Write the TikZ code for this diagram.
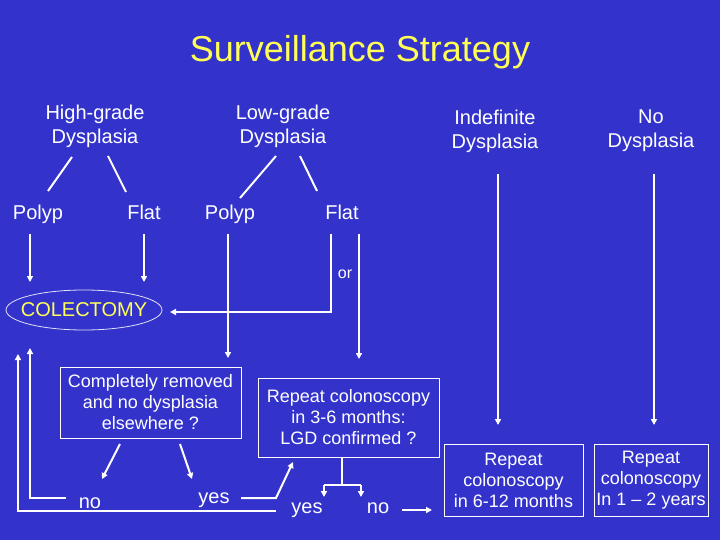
\documentclass[tikz,border=0pt]{standalone}
\usepackage{fontspec}
\setmainfont{Liberation Sans}
\usetikzlibrary{shapes.geometric,arrows.meta}
\definecolor{bg}{HTML}{3333CC}
\definecolor{ttl}{HTML}{FFFF55}
\begin{document}
\begin{tikzpicture}[x=1pt,y=-1pt,
  lbl/.style={text=white,font=\fontsize{20}{24}\selectfont,align=center,inner sep=0pt},
  sml/.style={text=white,font=\fontsize{16}{21}\selectfont,align=center,inner sep=0pt},
  boxn/.style={draw=white,line width=0.9pt,text=white,font=\fontsize{18}{21}\selectfont,align=center,inner sep=0pt},
  ln/.style={draw=white,line width=2pt},
  arr/.style={draw=white,line width=2pt,-{Triangle[length=6pt,width=6pt]}}]
\fill[bg] (0,0) rectangle (720,540);
\useasboundingbox (0,0) rectangle (720,540);
% title
\node[text=ttl,font=\fontsize{36}{42}\selectfont,inner sep=0pt] (title) at (360,52) {Surveillance Strategy};
% categories
\node[lbl] (hgd) at (95,126) {High-grade\\Dysplasia};
\node[lbl] (lgd) at (283,126) {Low-grade\\Dysplasia};
\node[lbl] (ind) at (495,131) {Indefinite\\Dysplasia};
\node[lbl] (nod) at (651,131) {No\\Dysplasia};
\node[lbl,anchor=base] (p1) at (38,219) {Polyp};
\node[lbl,anchor=base] (f1) at (144,219) {Flat};
\node[lbl,anchor=base] (p2) at (230,219) {Polyp};
\node[lbl,anchor=base] (f2) at (342,219) {Flat};
\node[sml,anchor=base] (or) at (345,278) {or};
% colectomy
\node[inner sep=0pt,text=ttl,font=\fontsize{20}{24}\selectfont] (col) at (84,310) {COLECTOMY};
\draw[white!85!bg,line width=0.8pt] (col.center) ellipse [x radius=78, y radius=20];
% boxes
\node[boxn,minimum width=181pt,minimum height=71pt] (b1) at (150.5,402.5)
  {Completely removed\\and no dysplasia\\elsewhere ?};
\node[boxn,minimum width=181pt,minimum height=79pt] (b2) at (348.5,417.5)
  {Repeat colonoscopy\\in 3-6 months:\\LGD confirmed ?};
\node[boxn,minimum width=139pt,minimum height=72pt] (b3) at (513.5,480)
  {Repeat\\colonoscopy\\in 6-12 months};
\node[boxn,minimum width=114pt,minimum height=72pt] (b4) at (651,480)
  {Repeat\\colonoscopy\\In 1 -- 2 years\vphantom{y}};
% answers
\node[lbl,anchor=base] (no1) at (90,508) {no};
\node[lbl,anchor=base] (yes1) at (214,503) {yes};
\node[lbl,anchor=base] (yes2) at (307,513) {yes};
\node[lbl,anchor=base] (no2) at (378,513) {no};
% coordinates
\coordinate (hl1) at (72,157); \coordinate (hl2) at (48,191);
\coordinate (hr1) at (108,156); \coordinate (hr2) at (126,192);
\coordinate (ll1) at (276,156); \coordinate (ll2) at (240,198);
\coordinate (lr1) at (300,156); \coordinate (lr2) at (317,191);
\coordinate (a1s) at (30,234); \coordinate (a1e) at (30,282);
\coordinate (a2s) at (144,234); \coordinate (a2e) at (144,282);
\coordinate (f2s) at (331,234); \coordinate (f2e) at (170,312);
\coordinate (f3s) at (359,234); \coordinate (f3e) at (359,359);
\coordinate (p2s) at (228,234); \coordinate (p2e) at (228,358);
\coordinate (b1l) at (120,444); \coordinate (b1le) at (102,479);
\coordinate (b1r) at (180,444); \coordinate (b1re) at (192,479);
\coordinate (n1s) at (66,498); \coordinate (n1e) at (30,348);
\coordinate (y2s) at (276,511); \coordinate (y2e) at (18,354);
\coordinate (y1s) at (241,498); \coordinate (y1m) at (276,498); \coordinate (y1e) at (293,462);
\coordinate (b2b) at (342,457); \coordinate (b2j) at (342,485);
\coordinate (b2jl) at (324,485); \coordinate (b2jr) at (361,485);
\coordinate (b2yl) at (324,497); \coordinate (b2nr) at (361,497);
\coordinate (n2s) at (402,510); \coordinate (n2e) at (432,510);
\coordinate (is) at (498,174); \coordinate (ie) at (498,425);
\coordinate (ns) at (654,174); \coordinate (ne) at (654,425);
% connectors
\draw[ln] (hl1) -- (hl2);
\draw[ln] (hr1) -- (hr2);
\draw[ln] (ll1) -- (ll2);
\draw[ln] (lr1) -- (lr2);
\draw[arr] (a1s) -- (a1e);
\draw[arr] (a2s) -- (a2e);
\draw[arr] (f2s) |- (f2e);
\draw[arr] (f3s) -- (f3e);
\draw[arr] (p2s) -- (p2e);
\draw[arr] (b1l) -- (b1le);
\draw[arr] (b1r) -- (b1re);
\draw[arr] (n1s) -| (n1e);
\draw[arr] (y2s) -| (y2e);
\draw[arr] (y1s) -- (y1m) -- (y1e);
\draw[ln] (b2b) -- (b2j);
\draw[ln] (b2jl) -- (b2jr);
\draw[arr] (b2jl) -- (b2yl);
\draw[arr] (b2jr) -- (b2nr);
\draw[arr] (n2s) -- (n2e);
\draw[arr] (is) -- (ie);
\draw[arr] (ns) -- (ne);
\end{tikzpicture}
\end{document}
